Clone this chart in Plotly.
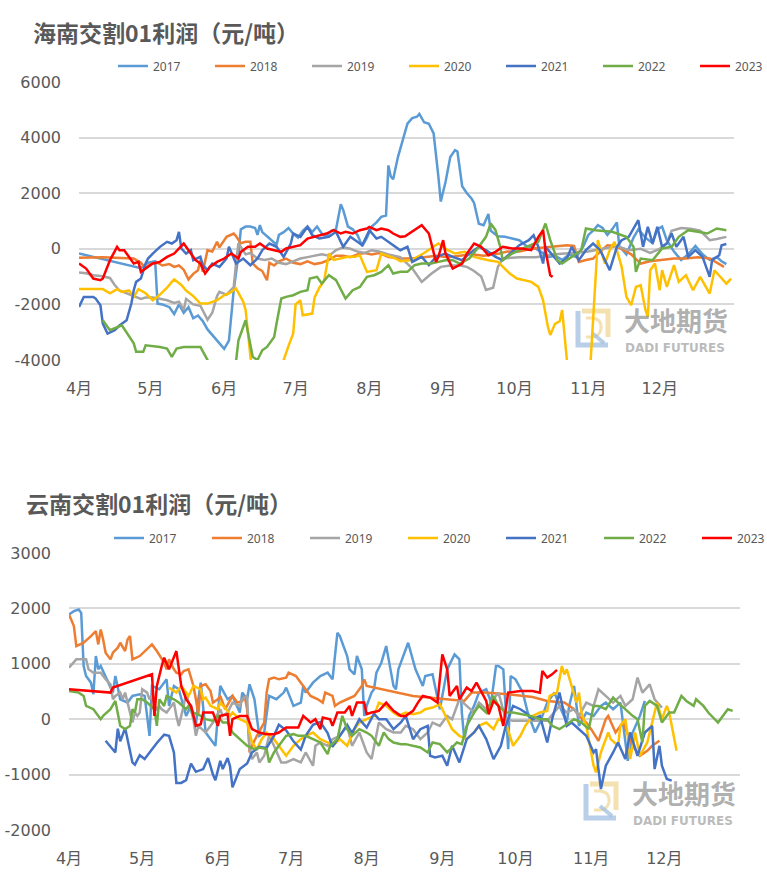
import pandas as pd
import plotly.graph_objects as go

W, H = 767, 886
BASE = pd.Timestamp("2023-04-01")

YEARS = ["2017", "2018", "2019", "2020", "2021", "2022", "2023"]
COLORS = ["#5B9BD5", "#ED7D31", "#A5A5A5", "#FFC000", "#4472C4", "#70AD47", "#FF0000"]
MONTH_TICKS = ["2023-04-01", "2023-05-01", "2023-06-01", "2023-07-01", "2023-08-01",
               "2023-09-01", "2023-10-01", "2023-11-01", "2023-12-01"]
MONTH_LABELS = ["4月", "5月", "6月", "7月", "8月", "9月", "10月", "11月", "12月"]
HN_YTICKS = [-4000, -2000, 0, 2000, 4000, 6000]
HN_YLABELS = ["-4000", "-2000", "0", "2000", "4000", "6000"]
YN_YTICKS = [-2000, -1000, 0, 1000, 2000, 3000]
YN_YLABELS = ["-2000", "-1000", "0", "1000", "2000", "3000"]

TITLE_HN = "海南交割01利润（元/吨）"
TITLE_YN = "云南交割01利润（元/吨）"

# ---------------- 海南 (days after 1 Apr, profit 元/吨) ----------------
hn_2017_day = [0,26,29,32,33,35,38,40,42,44,46,48,50,52,54,56,58,60,61,63,65,67,68,70,72,74,75,76,77,79,81,83,84,86,88,90,92,94,96,98,100,102,104,106,108,109,110,111,113,115,117,119,121,123,125,127,129,130,131,132,134,136,138,140,142,143,145,147,149,151,152,154,156,158,159,161,163,165,166,168,170,172,173,176,179,182,185,188,191,194,197,200,203,206,209,212,214,216,218,220,222,224,226,227,230,233,235,238,241,243,245,247,250,253,256,259,262,265,268,270,272]
hn_2017_val = [-170,-700,-500,-450,-1970,-2000,-2100,-2350,-2000,-2300,-2100,-2500,-2400,-2600,-2900,-3100,-3300,-3500,-3600,-3300,-1500,-200,700,800,800,750,500,850,600,450,300,150,500,600,750,550,400,650,800,600,800,550,450,650,700,1200,1600,1400,800,700,500,100,400,800,950,1150,1200,3000,2600,2500,3300,3900,4500,4700,4750,4850,4550,4500,4150,2600,1700,2400,3300,3550,3500,2250,2000,1800,1650,900,850,1250,650,450,430,370,310,100,50,-100,-300,-250,-400,-200,-300,100,500,650,850,750,500,700,950,100,-200,400,700,400,200,700,800,300,-100,-400,-200,100,-200,-400,-300,-450,-550]

hn_2018_day = [0,5,10,15,20,23,26,28,30,33,35,38,40,42,44,46,48,50,51,52,54,56,58,59,62,65,66,68,70,72,73,75,77,79,80,82,84,87,90,93,96,99,102,105,108,111,114,117,120,123,126,130,135,140,145,150,155,160,165,170,175,180,185,190,195,200,205,208,210,213,216,219,222,225,228,232,236,240,245,250,255,260,265,268,271]
hn_2018_val = [-320,-300,-300,-320,-330,-350,-500,-700,-550,-500,-600,-550,-650,-600,-750,-1100,-900,-770,-400,-830,-50,-100,250,50,430,550,450,200,250,250,-530,-700,-800,-1130,-500,-600,-450,-350,-500,-550,-450,-550,-500,-400,-250,-250,-300,-200,-150,-200,-150,-300,-350,-350,-300,-250,-300,-250,-200,-250,-200,-100,-100,0,50,100,130,100,-470,-400,-350,-100,130,100,0,-200,-530,-450,-400,-350,-350,-300,-350,-500,-650]

hn_2019_day = [0,3,6,9,13,15,17,20,23,26,28,31,34,37,40,42,44,45,48,51,54,56,58,59,62,65,66,67,70,72,75,78,81,84,87,90,93,96,99,102,105,108,111,114,117,120,123,126,130,135,140,144,148,152,156,160,163,166,169,171,174,176,178,185,192,200,207,214,220,226,231,236,240,244,247,249,253,257,261,265,268,272]
hn_2019_val = [-850,-880,-950,-980,-1050,-1300,-1500,-1600,-1700,-1800,-1750,-1750,-1800,-1850,-1950,-1900,-2200,-1800,-2000,-2050,-2550,-2300,-1700,-1550,-1650,-1380,-500,200,-200,-150,-350,-400,-350,-500,-550,-450,-350,-300,-250,-200,-250,-50,50,0,-100,-150,-50,-100,-200,-300,-700,-1190,-900,-650,-600,-600,-650,-800,-1000,-1480,-1400,-650,-350,-300,-300,-200,-150,-100,0,100,-50,0,-150,0,200,650,750,720,650,310,350,430]

hn_2020_day = [0,5,10,13,16,18,21,23,25,28,31,34,37,39,40,43,45,48,51,54,58,61,63,66,69,70,72,74,84,86,88,90,91,93,94,98,99,101,103,105,107,110,113,116,118,121,125,127,129,133,135,140,145,151,155,158,162,166,172,176,181,184,190,193,195,197,198,200,202,203,205,207,213,215,218,221,223,225,228,230,232,234,236,238,239,240,242,244,245,247,250,252,255,258,261,265,267,269,272,274]
hn_2020_val = [-1450,-1450,-1450,-1600,-1450,-1550,-1500,-1730,-1450,-1600,-1850,-1650,-1400,-1190,-1100,-1300,-1500,-1700,-1970,-1970,-1850,-1670,-1600,-1430,-1900,-2200,-4000,-5500,-5500,-4000,-3500,-3050,-2000,-1850,-2390,-2330,-1750,-1400,-1150,-170,-400,-350,-290,-290,-230,-830,-770,-170,-230,-350,-450,-400,-150,190,-50,-170,-110,-290,-410,-470,-890,-1070,-1190,-1370,-1850,-2800,-3100,-2700,-2600,-2200,-4000,-5500,-5500,-4000,310,-530,-50,250,-650,-1730,-2030,-1370,-1310,-2200,-2450,-770,-530,-1490,-770,-1370,-590,-1190,-950,-1490,-1010,-1610,-770,-950,-1250,-1070]

hn_2021_day = [0,2,6,7,9,10,12,15,17,20,22,23,24,26,28,29,31,34,37,39,41,42,43,45,47,48,51,52,54,56,59,62,63,66,69,72,75,77,80,83,86,89,90,93,96,98,101,105,108,111,114,116,119,122,125,127,130,133,135,138,140,144,147,150,154,157,161,164,168,171,175,178,181,185,189,191,193,195,196,199,202,205,207,210,213,216,219,223,226,228,231,235,237,239,241,243,245,247,249,251,254,256,259,262,265,266,269,270,272]
hn_2021_val = [-2090,-1730,-1730,-1790,-2030,-2690,-3050,-2930,-2760,-2570,-1970,-1490,-1190,-1070,-530,-350,-170,70,250,190,310,610,10,-170,-50,-410,-290,-590,-770,-530,-650,-350,70,-530,-350,-590,-350,-50,190,70,-290,190,550,430,790,490,370,430,610,70,430,310,130,670,370,430,250,70,-50,70,-470,-290,-590,-290,-170,-290,-410,-170,70,-50,-290,-410,-170,130,310,490,70,-530,70,-230,-530,-350,70,-410,-50,190,-50,-770,70,310,430,1030,70,790,190,790,70,190,550,70,430,-290,-50,-290,-1010,-410,-230,130,170]

hn_2022_day = [10,13,18,23,24,27,28,34,37,39,41,44,48,51,54,57,64,66,67,70,71,73,75,77,79,82,83,85,87,90,93,96,97,100,102,105,108,112,115,118,121,124,127,130,132,135,138,141,144,148,151,154,157,160,164,168,171,173,175,177,178,182,188,193,196,198,201,203,207,211,213,217,224,230,233,234,236,241,245,249,252,256,260,264,268,272]
hn_2022_val = [-2570,-2930,-2750,-3400,-3700,-3700,-3470,-3530,-3590,-3890,-3590,-3530,-3530,-3530,-4000,-5500,-5500,-4000,-3290,-2570,-3050,-3890,-4000,-3650,-3530,-3170,-2690,-1790,-1730,-1670,-1550,-1490,-1070,-1010,-1250,-950,-1130,-1790,-1490,-1370,-1010,-950,-830,-590,-890,-830,-830,-590,-530,-530,-470,-410,-410,-530,-350,70,430,910,670,70,-410,-170,70,250,910,310,-410,-530,-290,-50,730,670,610,430,70,-830,-350,-410,10,70,430,670,610,550,730,670]

hn_2023_day = [0,3,6,9,10,13,16,17,19,21,23,25,26,28,31,34,37,40,42,44,47,49,51,53,55,58,61,64,67,68,71,74,76,79,82,85,87,90,93,96,99,102,104,107,110,112,115,118,121,122,125,127,130,132,135,137,140,144,147,150,151,153,154,157,161,163,166,169,172,175,178,182,186,190,193,195,196,198,199]
hn_2023_val = [-530,-710,-1070,-1130,-1070,-410,70,-50,-50,-290,-530,-470,-830,-710,-530,-470,-290,-170,10,190,-170,-410,-530,-890,-650,-470,-350,-170,-350,-110,70,70,190,10,-50,-110,10,70,130,370,430,490,550,670,550,610,550,670,730,790,670,730,670,550,430,450,610,850,550,-470,-290,310,-170,-710,-530,-170,190,70,-230,-110,70,10,10,-50,430,670,-50,-950,-1010]

# ---------------- 云南 ----------------
yn_2017_day = [0,2,4,5,6,7,9,10,11,12,13,15,17,18,19,21,24,26,29,31,33,34,37,40,41,43,45,48,50,52,53,54,56,59,60,62,65,67,70,71,73,74,76,78,80,82,85,88,89,92,95,96,97,100,103,106,108,110,111,114,115,117,118,120,121,122,124,125,126,
               128,130,131,133,134,135,136,139,142,145,146,149,150,152,155,157,158,160,161,162,164,166,168,171,173,175,176,178,180,181,183,186,188,191,193,196,199,201,204,205,207,209,212,215,218,220,223,226,228,229,231,234,236]
yn_2017_val = [1890,1950,1980,1920,960,780,660,450,1140,900,960,780,600,480,780,360,300,420,450,420,-300,600,540,720,240,600,540,60,240,-120,360,660,-240,-420,-480,600,360,420,120,480,360,630,360,-300,-240,420,360,480,570,240,300,600,480,660,780,840,720,1560,1500,1140,900,810,1140,900,60,240,480,540,840,
               1020,1320,1080,600,540,900,1020,1380,900,600,780,810,600,180,900,1080,1170,1080,120,-360,60,240,480,540,300,960,960,900,-540,780,720,480,120,-240,-60,300,480,240,-60,240,600,-120,120,60,240,300,180,300,-360,-750,-240,60,330]

yn_2018_day = [0,2,3,6,9,11,12,13,14,15,17,18,20,21,23,24,25,26,29,32,34,36,39,40,41,43,44,46,47,49,51,52,53,54,56,58,59,61,62,64,67,69,71,72,73,74,75,77,80,81,82,84,86,89,90,93,96,99,102,104,105,108,109,111,114,117,119,120,121,122,141,155,162,165,170,180,190,196,203,207,209,212,214,217,220,221,224,227,229,231,234,237,239,242]
yn_2018_val = [1890,1680,1320,1380,1500,1590,1350,1620,1440,1200,1080,1200,1290,1380,1230,1440,1500,1080,1140,1260,1350,1230,1020,900,1080,900,840,810,870,900,600,360,90,600,630,510,300,360,420,180,420,300,330,420,180,-600,-480,-300,-60,480,720,750,720,750,840,780,600,420,360,300,480,420,240,300,360,420,540,600,720,600,420,360,330,480,480,450,400,330,300,180,60,-60,-180,-390,0,60,-240,-60,-270,-480,-660,-570,-480,-390]

yn_2019_day = [0,2,3,7,8,10,13,15,17,18,19,21,22,23,25,26,27,28,29,30,32,33,34,36,37,38,40,41,43,44,45,47,48,49,51,52,53,56,59,62,63,65,67,70,71,73,74,75,77,78,80,81,82,84,87,89,92,95,97,100,101,103,106,108,111,114,116,119,122,124,
               127,130,133,136,138,141,144,147,149,152,155,157,160,163,166,168,171,174,176,179,182,189,196,201,204,207,209,212,215,217,220,223,226,228,231,233,235,238,240,243]
yn_2019_val = [930,1020,1080,1080,900,840,840,720,630,360,420,480,360,480,150,-60,120,60,120,540,480,360,420,150,240,180,120,180,300,60,-120,240,480,300,0,-300,-120,-240,-60,180,60,120,300,240,360,420,-540,-720,-600,-780,-660,-480,-300,-480,-780,-780,-720,-780,-600,-840,-480,-420,-480,-360,-300,-120,-480,-240,-600,-720,
               -60,-180,-240,-240,-120,-180,-360,-240,-60,-120,60,0,360,240,120,300,180,360,480,0,-30,-30,-30,240,120,180,60,300,240,540,420,300,420,240,360,750,480,630,360,210]

yn_2020_day = [41,43,44,46,48,49,51,54,55,56,58,61,62,65,66,67,70,73,75,77,79,81,84,86,89,92,95,97,100,103,106,108,111,114,117,119,122,125,127,130,133,135,138,141,144,146,149,152,155,157,160,163,166,168,171,174,176,179,182,185,187,190,193,196,197,200,202,203,204,206,208,209,210,212,215,216,218,221,222,225,226,228,229,230,232,234,237,240,241,243,245,246,249]
yn_2020_val = [570,510,480,600,480,420,600,540,360,390,240,180,300,150,60,120,0,-60,-420,-540,-360,-240,-360,-480,-660,-480,-360,-300,-240,-360,-420,-480,-360,-480,-180,-60,0,60,300,240,120,60,120,90,120,180,210,270,0,-180,-300,-360,-240,-120,-60,-180,0,-60,-480,-300,-120,60,120,150,420,480,960,810,900,600,300,480,120,-120,-840,-960,-600,-240,-360,-480,-120,0,-300,-720,-240,-660,-420,120,300,0,240,120,-570]

yn_2021_day = [15,19,20,21,23,26,27,29,31,33,36,39,41,43,44,46,48,50,52,55,57,59,60,62,63,65,66,67,70,73,75,78,81,84,86,89,92,95,97,100,103,106,108,111,114,116,119,122,125,127,130,133,136,138,141,144,147,148,150,153,155,157,160,163,166,168,171,174,177,179,182,185,187,190,193,196,198,201,204,206,209,212,215,216,218,220,223,225,228,230,233,236,239,240,242,243,245,247]
yn_2021_val = [-390,-600,-170,-400,-160,-780,-820,-650,-720,-600,-430,-280,-300,-600,-1150,-1150,-1100,-800,-950,-900,-700,-1000,-1100,-750,-900,-700,-850,-1230,-900,-800,-600,-500,-520,-300,-100,-200,-400,-550,-300,-100,-50,-250,-500,-300,-100,-250,0,-150,100,0,0,-180,-60,60,-360,-180,-120,-660,-690,-660,-840,-480,-780,-360,-240,-120,-360,-720,-480,-120,240,180,120,0,60,-420,0,480,-120,-60,-180,-300,-600,-540,-1260,-840,-600,-420,-720,-240,-660,-240,-120,-900,-480,-840,-1080,-1110]

yn_2022_day = [0,4,6,7,10,11,13,14,17,19,21,23,25,26,27,28,30,32,35,36,37,39,40,43,45,48,49,51,54,56,59,61,63,65,67,70,73,76,78,81,82,84,86,89,92,94,97,100,103,106,107,110,112,114,116,119,122,124,127,129,131,133,136,138,141,144,147,149,152,155,157,159,161,163,166,168,171,174,176,179,182,185,189,193,196,198,201,204,207,210,213,215,217,220,223,225,228,231,233,235,236,238,241,243,246,248,251,253,256,257,260,262,266,268,270,272]
yn_2022_val = [510,480,420,240,180,120,0,60,180,330,-120,-180,-120,180,120,360,360,300,180,-120,360,240,420,360,300,180,240,120,60,0,-30,60,-60,-60,-240,-360,-480,-540,-510,-540,-780,-600,-480,-300,-270,-300,-300,-360,-420,-630,-480,-360,60,-180,-300,-180,-240,-300,-480,-240,-360,-420,-450,-450,-480,-510,-600,-420,-450,-600,-510,-420,-450,-120,120,240,120,420,240,120,120,90,60,0,0,-120,-180,-90,0,-60,-180,240,240,180,390,300,180,60,0,-420,240,330,240,-60,120,120,420,330,240,360,240,120,-60,60,180,150]

yn_2023_day = [0,17,18,34,35,36,38,39,41,42,44,46,48,50,52,54,55,59,61,62,65,66,67,70,73,75,78,81,84,86,89,92,94,96,99,101,103,104,107,108,110,113,115,116,118,121,122,124,127,130,133,136,138,141,143,145,148,151,153,155,156,159,160,163,165,167,169,171,172,174,176,178,180,185,190,193,194,196,198,200]
yn_2023_val = [540,480,570,810,60,600,960,1110,900,1020,1230,600,360,240,-120,-90,120,120,-120,60,90,-300,0,60,60,-180,-240,-270,-270,-240,-150,-150,-150,60,-60,0,-180,30,0,-120,120,120,240,60,300,300,90,120,150,300,150,60,60,150,300,420,390,300,1170,900,420,600,360,570,510,660,480,330,90,330,240,-120,480,510,510,480,870,750,810,890]

HN_DAYS = [hn_2017_day, hn_2018_day, hn_2019_day, hn_2020_day, hn_2021_day, hn_2022_day, hn_2023_day]
HN_VALS = [hn_2017_val, hn_2018_val, hn_2019_val, hn_2020_val, hn_2021_val, hn_2022_val, hn_2023_val]
YN_DAYS = [yn_2017_day, yn_2018_day, yn_2019_day, yn_2020_day, yn_2021_day, yn_2022_day, yn_2023_day]
YN_VALS = [yn_2017_val, yn_2018_val, yn_2019_val, yn_2020_val, yn_2021_val, yn_2022_val, yn_2023_val]


def to_dates(days):
    return [BASE + pd.Timedelta(days=int(d)) for d in days]


def px(x):
    return x / W


def py(y):
    return 1 - y / H


TEXT = "#595959"
GRID = "#D9D9D9"
TICKFONT = "DejaVu Sans, Noto Sans CJK SC, sans-serif"
LEGFONT = "Noto Sans, sans-serif"

# top chart legends: legend (2017-2020) + legend3 (2021-2023); bottom: legend2 + legend4
fig = go.Figure()
for i, yr in enumerate(YEARS):
    d, v = zip(*zip(HN_DAYS[i], HN_VALS[i]))
    fig.add_trace(go.Scatter(x=to_dates(d), y=list(v), mode="lines", name=yr,
                             line=dict(color=COLORS[i], width=2.5),
                             xaxis="x", yaxis="y", legend="legend" if i < 4 else "legend3"))
for i, yr in enumerate(YEARS):
    d, v = zip(*zip(YN_DAYS[i], YN_VALS[i]))
    fig.add_trace(go.Scatter(x=to_dates(d), y=list(v), mode="lines", name=yr,
                             line=dict(color=COLORS[i], width=2.5),
                             xaxis="x2", yaxis="y2", legend="legend2" if i < 4 else "legend4"))

xcommon = dict(type="date", tickmode="array", tickvals=MONTH_TICKS, ticktext=MONTH_LABELS,
               showgrid=False, zeroline=False, showline=False, ticks="",
               tickfont=dict(family=TICKFONT, size=16, color=TEXT), ticklabelstandoff=17,
               range=["2023-04-01", "2024-01-01"], fixedrange=True, automargin=False)
ycommon = dict(showgrid=True, gridcolor=GRID, gridwidth=1.5, zeroline=False, showline=False,
               ticks="", tickfont=dict(family=TICKFONT, size=16, color=TEXT), ticklabelstandoff=17,
               fixedrange=True, automargin=False, tickmode="array")


def leg(x, y, ew):
    return dict(orientation="h", xanchor="left", yanchor="middle", x=px(x), y=py(y),
                font=dict(family=LEGFONT, size=12, color=TEXT),
                bgcolor="rgba(0,0,0,0)", entrywidth=ew, entrywidthmode="pixels",
                itemclick=False, itemdoubleclick=False, borderwidth=0)


fig.update_layout(
    width=W, height=H, margin=dict(l=0, r=0, t=0, b=0, autoexpand=False),
    paper_bgcolor="white", plot_bgcolor="white",
    showlegend=True,
    xaxis=dict(domain=[px(79), px(733.5)], anchor="y", **xcommon),
    yaxis=dict(domain=[py(360), py(82)], anchor="x", range=[-4000, 6000],
               tickvals=HN_YTICKS, ticktext=HN_YLABELS, **ycommon),
    xaxis2=dict(domain=[px(69), px(740)], anchor="y2", **xcommon),
    yaxis2=dict(domain=[py(830), py(553)], anchor="x2", range=[-2000, 3000],
                tickvals=YN_YTICKS, ticktext=YN_YLABELS, **ycommon),
    legend=leg(113, 66, 52),
    legend3=leg(113 + 4 * 97, 66, 52),
    legend2=leg(109, 538, 53),
    legend4=leg(109 + 4 * 98, 538, 53),
)

# titles
fig.add_annotation(text="<b>" + TITLE_HN + "</b>", xref="paper", yref="paper",
                   x=px(31), y=py(32), xanchor="left", yanchor="middle", showarrow=False,
                   font=dict(family="Noto Sans CJK SC", size=23, color=TEXT))
fig.add_annotation(text="<b>" + TITLE_YN + "</b>", xref="paper", yref="paper",
                   x=px(24), y=py(503), xanchor="left", yanchor="middle", showarrow=False,
                   font=dict(family="Noto Sans CJK SC", size=23, color=TEXT))


# watermark
def watermark(lx, ty):
    fig.add_shape(type="path", xref="paper", yref="paper", layer="below",
                  path=f"M{px(lx+4)},{py(ty+2)} L{px(lx+4)},{py(ty+36)} L{px(lx+34)},{py(ty+36)}",
                  line=dict(color="rgba(160,190,225,0.75)", width=5))
    fig.add_shape(type="path", xref="paper", yref="paper", layer="below",
                  path=f"M{px(lx+8)},{py(ty+2)} L{px(lx+34)},{py(ty+2)} L{px(lx+34)},{py(ty+28)}",
                  line=dict(color="rgba(240,215,150,0.75)", width=5))
    fig.add_shape(type="path", xref="paper", yref="paper", layer="below",
                  path=(f"M{px(lx+12)},{py(ty+9)} L{px(lx+18)},{py(ty+9)} "
                        f"Q{px(lx+28)},{py(ty+10)} {px(lx+27)},{py(ty+20)} "
                        f"Q{px(lx+25)},{py(ty+29)} {px(lx+16)},{py(ty+28)} "
                        f"L{px(lx+12)},{py(ty+28)}"),
                  line=dict(color="rgba(240,215,150,0.75)", width=3))
    fig.add_shape(type="line", xref="paper", yref="paper", layer="below",
                  x0=px(lx+18), y0=py(ty+24), x1=px(lx+30), y1=py(ty+34),
                  line=dict(color="rgba(160,190,225,0.75)", width=4))
    fig.add_annotation(text="<b>大地期货</b>", xref="paper", yref="paper",
                       x=px(lx+49), y=py(ty+30), xanchor="left", yanchor="bottom", showarrow=False,
                       borderpad=0,
                       font=dict(family="Noto Sans CJK SC", size=26, color="rgba(150,150,150,0.75)"))
    fig.add_annotation(text="<b>DADI FUTURES</b>", xref="paper", yref="paper",
                       x=px(lx+50), y=py(ty+30.5), xanchor="left", yanchor="top", showarrow=False,
                       borderpad=0,
                       font=dict(family="DejaVu Sans", size=12, color="rgba(165,165,165,0.75)"))


watermark(574, 309)
watermark(582, 782)

fig.write_html("out.html", config={"displayModeBar": False},
               post_script="document.body.style.margin='0';")
